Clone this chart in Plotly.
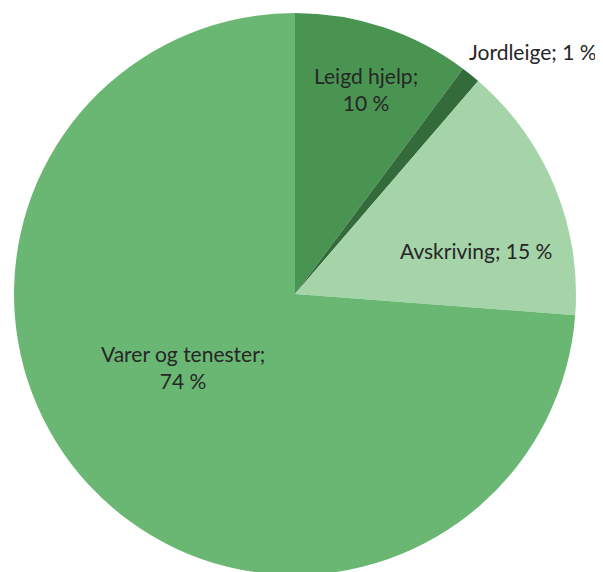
import plotly.graph_objects as go

categories = ["Leigd hjelp", "Jordleige", "Avskriving", "Varer og tenester"]
values = [10.2, 1.1, 14.9, 73.8]
colors = ["#4A9452", "#336B3A", "#A5D4A9", "#69B773"]

total = sum(values)
pct = [f"{round(v / total * 100)} %" for v in values]

# page body adds an 8px offset; work in screen pixels and subtract it
OFF = 8
W, H = 603, 572
cx, cy, r = 295, 294, 281

fig = go.Figure(go.Pie(
    labels=categories,
    values=values,
    sort=False,
    direction="clockwise",
    rotation=0,
    marker=dict(colors=colors, line=dict(width=0)),
    textinfo="none",
    hoverinfo="label+percent",
    showlegend=False,
    domain=dict(
        x=[(cx - r - OFF) / W, (cx + r - OFF) / W],
        y=[1 - (cy + r - OFF) / H, 1 - (cy - r - OFF) / H],
    ),
))

# label layout: (x px, y px, line break after label?)
label_pos = [
    (366, 89, True),
    (533, 52, False),
    (476, 250, False),
    (183, 367, True),
]
font = dict(family="Lato, Noto Sans, sans-serif", size=21, color="#262626")
for cat, p, (px, py, brk) in zip(categories, pct, label_pos):
    txt = f"{cat};<br>{p}" if brk else f"{cat}; {p}"
    fig.add_annotation(
        x=(px - OFF) / W, y=1 - (py - OFF) / H, xref="paper", yref="paper",
        text=txt, showarrow=False, font=font, align="center",
        xanchor="center", yanchor="middle",
    )

fig.update_layout(
    width=W, height=H,
    margin=dict(l=0, r=0, t=0, b=0),
    paper_bgcolor="white", plot_bgcolor="white",
)

fig.write_html("out.html")
